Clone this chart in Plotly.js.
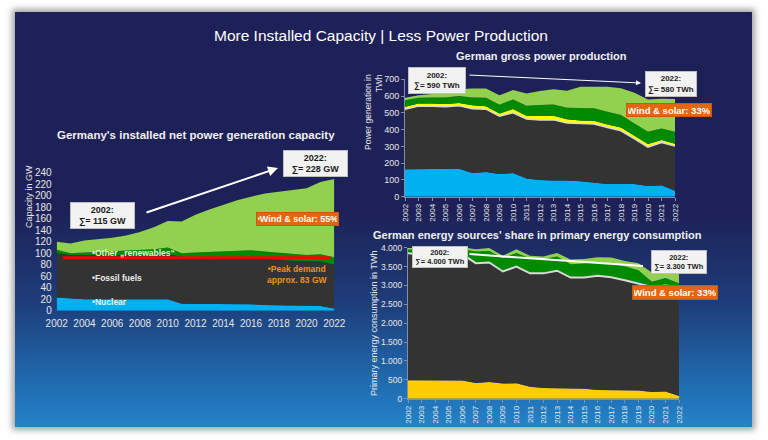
<!DOCTYPE html>
<html>
<head>
<meta charset="utf-8">
<script src="https://cdn.plot.ly/plotly-3.0.1.min.js"></script>
<style>
  html, body { margin:0; padding:0; background:#ffffff; width:768px; height:440px; overflow:hidden; }
  #slide { position:absolute; left:15px; top:12px; width:737px; height:415px;
    background: linear-gradient(to bottom, #1d2157 0%, #1d2157 48%, #1e3d7a 70%, #2068ac 88%, #2483c8 100%);
    box-shadow: 0 0 6px 3px rgba(90,90,90,0.55); }
  #chart { position:absolute; left:0; top:0; width:768px; height:440px; }
</style>
</head>
<body>
<div id="slide"></div>
<div id="chart"></div>
<script>
// ---------- DATA ----------
const years = [2002,2003,2004,2005,2006,2007,2008,2009,2010,2011,2012,2013,2014,2015,2016,2017,2018,2019,2020,2021,2022];
const capTicks = [2002,2004,2006,2008,2010,2012,2014,2016,2018,2020,2022];

// Chart 1: installed net capacity (GW), cumulative layer tops
const capNuclearTop = [23,21,20,20,20,20,20,20,20,12,12,12,12,11,11,10,9.5,9.5,8,8,4];
const capFossilTop  = [100,97,97,97,97,97,97,97,99,93,93,94,93,92,92,91,89,87,86,86,80];
const capOtherRenTop = [106,100,101,102,103,104,105,107,110,100,101,102,103,105,105,103,101,98,97,98,93];
const capTotal      = [120,117,122,124,127,131,137,145,156,155,167,176,184,192,198,204,207,210,213,224,229];
const peakDemandLevel = 92;
const peakDemandSpan = [2002.45, 2021.7];

// Chart 2: gross power production (TWh), cumulative layer tops
const genNuclearTop = [163,163,165,163,167,141,148,135,141,108,99,97,97,92,85,76,76,75,64,69,35];
const genFossilTop  = [522,540,540,536,542,525,522,480,500,463,458,458,440,435,433,412,393,345,296,323,302];
const genYellowTop  = [537,555,555,552,558,545,540,496,523,483,482,482,462,455,453,430,412,362,314,338,315];
const genGreenTop   = [575,590,592,592,600,592,590,548,580,543,547,550,531,527,527,507,487,437,388,407,388];
const genTotal      = [590,605,612,615,640,645,645,605,636,616,630,640,632,655,655,655,646,620,580,584,582];

// Chart 3: primary energy consumption (TWh), cumulative layer tops
const pecNuclearTop = [486,486,486,475,485,415,440,400,410,315,285,280,282,265,232,220,218,215,175,190,70];
const pecFossilTop  = [3850,3820,3820,3810,3830,3590,3610,3370,3500,3320,3320,3390,3210,3210,3260,3215,3140,3050,2960,3000,2960];
const pecGreenTop   = [3950,3950,3960,3960,3960,3900,3910,3720,3860,3720,3700,3770,3560,3580,3620,3580,3510,3400,3100,3200,3060];
const pecTotal      = [3990,3990,4000,4000,4010,3960,3990,3790,3960,3790,3770,3860,3690,3700,3750,3740,3650,3590,3340,3400,3300];

// ---------- STYLE ----------
const W = 768, H = 440;
const px = x => x / W;
const py = y => 1 - y / H;
const C = { nuclear:'#00b0f0', fossil:'#333333', darkGreen:'#008a00', lightGreen:'#92d050',
            yellow:'#ffff00', gold:'#ffcc00', orange:'#e4670f', red:'#ff0000' };
const FONT = 'Liberation Sans, Arial, sans-serif';

function area(x, y, color, fill, xa, ya, lineColor, lineWidth) {
  return { x: x, y: y, type:'scatter', mode:'lines', fill: fill, fillcolor: color,
           line: { color: lineColor || color, width: lineWidth || 0, shape:'linear' },
           xaxis: xa, yaxis: ya, hoverinfo:'skip', showlegend:false };
}

const traces = [
  // chart 1
  area(years, capNuclearTop, C.nuclear, 'tozeroy', 'x', 'y'),
  area(years, capFossilTop, C.fossil, 'tonexty', 'x', 'y'),
  area(years, capOtherRenTop, C.darkGreen, 'tonexty', 'x', 'y'),
  area(years, capTotal, C.lightGreen, 'tonexty', 'x', 'y'),
  { x: peakDemandSpan, y: [peakDemandLevel, peakDemandLevel], type:'scatter', mode:'lines',
    line:{ color:C.red, width:3 }, xaxis:'x', yaxis:'y', hoverinfo:'skip', showlegend:false },
  // chart 2
  area(years, genNuclearTop, C.nuclear, 'tozeroy', 'x2', 'y2'),
  area(years, genFossilTop, C.fossil, 'tonexty', 'x2', 'y2', '#d9d9d9', 1.5),
  area(years, genYellowTop, C.yellow, 'tonexty', 'x2', 'y2'),
  area(years, genGreenTop, C.darkGreen, 'tonexty', 'x2', 'y2'),
  area(years, genTotal, C.lightGreen, 'tonexty', 'x2', 'y2'),
  // chart 3
  area(years, pecNuclearTop, C.gold, 'tozeroy', 'x3', 'y3'),
  area(years, pecFossilTop, C.fossil, 'tonexty', 'x3', 'y3', '#d9d9d9', 2),
  area(years, pecGreenTop, C.darkGreen, 'tonexty', 'x3', 'y3'),
  area(years, pecTotal, C.lightGreen, 'tonexty', 'x3', 'y3'),
];

const tickFont = s => ({ family: FONT, size: s, color: '#e6e6e6' });

const layout = {
  width: W, height: H,
  margin: { l:0, r:0, t:0, b:0 },
  paper_bgcolor: 'rgba(0,0,0,0)', plot_bgcolor: 'rgba(0,0,0,0)',
  separators: ',.',
  showlegend: false,
  font: { family: FONT, color:'#ffffff' },
  xaxis: { domain:[px(56.7), px(334.3)], range:[2002, 2022], tickvals: capTicks, showgrid:false,
           zeroline:false, showline:false, ticks:'', ticklabelstandoff:5, tickfont: tickFont(10), anchor:'y' },
  yaxis: { domain:[py(310.7), py(172.7)], range:[0, 240], dtick:20, showgrid:false, zeroline:false,
           showline:false, ticks:'', ticklabelstandoff:4, tickfont: tickFont(10), anchor:'x' },
  xaxis2: { domain:[px(405), px(675)], range:[2002, 2022], tickvals: years, tickangle:-90, showgrid:false,
            zeroline:false, showline:true, linecolor:'#7f8fb0', linewidth:1, ticks:'outside', ticklen:3,
            tickcolor:'#7f8fb0', tickfont: tickFont(8), anchor:'y2' },
  yaxis2: { domain:[py(196.7), py(79.3)], range:[0, 700], dtick:100, showgrid:false, zeroline:false,
            showline:true, linecolor:'#7f8fb0', linewidth:1, ticks:'outside', ticklen:3, tickcolor:'#7f8fb0',
            tickfont: tickFont(9), anchor:'x2' },
  xaxis3: { domain:[px(408), px(679)], range:[2002, 2022], tickvals: years, tickangle:-90, showgrid:false,
            zeroline:false, showline:true, linecolor:'#7f8fb0', linewidth:1, ticks:'outside', ticklen:3,
            tickcolor:'#7f8fb0', tickfont: tickFont(8), anchor:'y3' },
  yaxis3: { domain:[py(398.7), py(247.7)], range:[0, 4000], dtick:500, separatethousands:true, showgrid:false,
            zeroline:false, showline:true, linecolor:'#7f8fb0', linewidth:1, ticks:'outside', ticklen:3,
            tickcolor:'#7f8fb0', tickfont: tickFont(8.5), anchor:'x3' },
  annotations: []
};

const A = layout.annotations;
function txt(x, y, text, size, color, bold, opts) {
  A.push(Object.assign({ xref:'paper', yref:'paper', x:px(x), y:py(y), text: bold ? '<b>'+text+'</b>' : text,
    showarrow:false, xanchor:'center', yanchor:'middle',
    font:{ family: FONT, size: size, color: color } }, opts || {}));
}
function box(cx, cy, w, h, text, size) {
  A.push({ xref:'paper', yref:'paper', x:px(cx), y:py(cy), xanchor:'center', yanchor:'middle',
    text:'<b>'+text+'</b>', showarrow:false, align:'center', width:w-6, height:h-4,
    bgcolor:'#f2f2f2', bordercolor:'#bfbfbf', borderwidth:1, borderpad:2,
    font:{ family: FONT, size: size, color:'#1a1a1a' } });
}
function obox(cx, cy, w, h, text, size) {
  A.push({ xref:'paper', yref:'paper', x:px(cx), y:py(cy), xanchor:'center', yanchor:'middle',
    text:'<b>'+text+'</b>', showarrow:false, width:w-4, height:h-4,
    bgcolor:C.orange, bordercolor:'#c85a0c', borderwidth:1, borderpad:1,
    font:{ family: FONT, size: size, color:'#ffffff' } });
}
function arrow(x0, y0, x1, y1, width, head) {
  A.push({ xref:'paper', yref:'paper', axref:'paper', ayref:'paper', x:px(x1), y:py(y1), ax:px(x0), ay:py(y0),
    text:'', showarrow:true, arrowhead: head, arrowsize:1, arrowwidth: width, arrowcolor:'#ffffff', standoff:0 });
}

// titles
txt(381, 35, 'More Installed Capacity | Less Power Production', 15.5, '#ffffff', false);
txt(196, 135, "Germany's installed net power generation capacity", 11.5, '#f0f0f0', true);
txt(541, 56, 'German gross power production', 11, '#f0f0f0', true);
txt(537, 235, "German energy sources' share in primary energy consumption", 11, '#f0f0f0', true);

// axis titles (rotated)
txt(29, 197, 'Capacity in GW', 9, '#e6e6e6', false, { textangle:-90 });
txt(374, 112, 'Power generation in<br>TWh', 8.5, '#e6e6e6', false, { textangle:-90, align:'right' });
txt(374, 324, 'Primary energy consumption in TWh', 9, '#e6e6e6', false, { textangle:-90 });

// chart 1 labels
arrow(145, 213, 278, 168, 2, 2);
box(102.5, 215.5, 65, 25, '2002:<br>∑= 115 GW', 9);
box(315.5, 163.5, 65, 25, '2022:<br>∑= 228 GW', 9);
obox(297.5, 219, 83, 14, '•Wind &amp; solar: 55%', 9);
txt(90, 253, '•Other „renewables“', 8.5, '#e8f0dc', true, { xanchor:'left' });
txt(90, 278, '•Fossil fuels', 8.5, '#eeeeee', true, { xanchor:'left' });
txt(90, 302, '•Nuclear', 8.5, '#e6f6ff', true, { xanchor:'left' });
txt(297, 274, '•Peak demand<br>approx. 83 GW', 8.5, '#f0901c', true);

// chart 2 labels
arrow(468, 75, 641, 83, 1, 2);
box(437, 80.5, 58, 25, '2002:<br>∑= 590 TWh', 8);
box(671, 84, 52, 24, '2022:<br>∑= 580 TWh', 8);
obox(669, 110, 86, 14, 'Wind &amp; solar: 33%', 9.5);

// chart 3 labels
arrow(468, 254, 643, 266, 2, 0);
box(439.5, 257, 56, 20, '2002:<br>∑= 4.000 TWh', 7.5);
box(678.5, 262, 56, 22, '2022:<br>∑= 3.300 TWh', 7.5);
obox(675, 292.5, 86, 15, 'Wind &amp; solar: 33%', 9.5);

Plotly.newPlot('chart', traces, layout, { staticPlot:true, displayModeBar:false });
</script>
</body>
</html>
